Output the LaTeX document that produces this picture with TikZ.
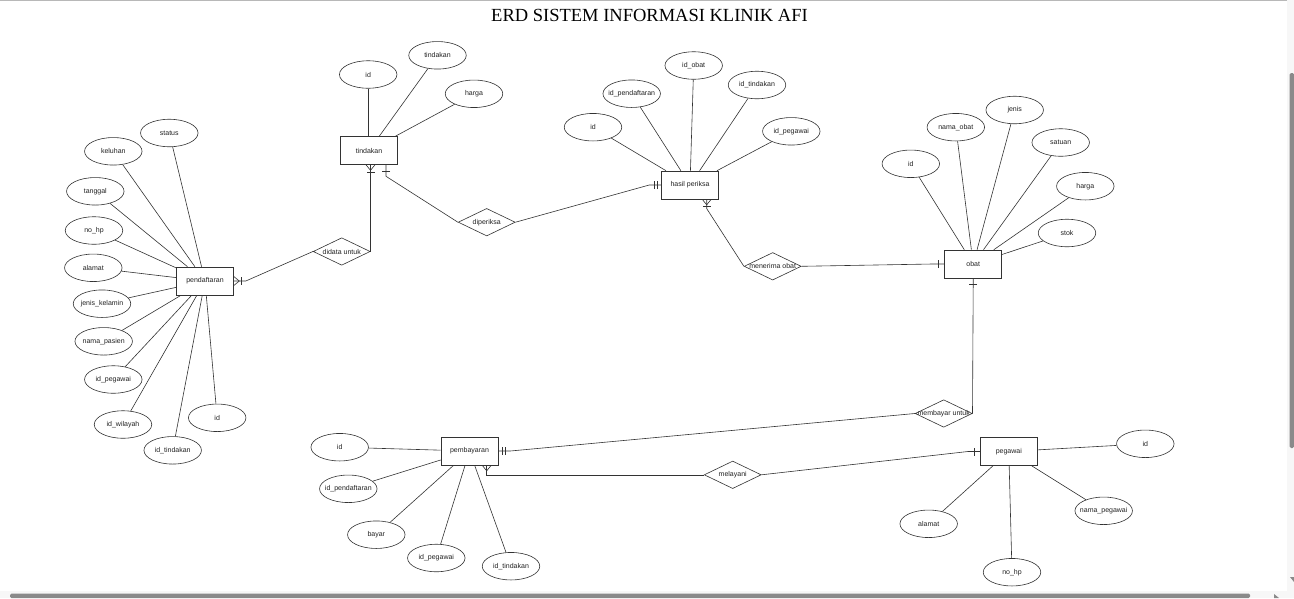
\documentclass[tikz,border=0pt]{standalone}
\usepackage{fontspec}
\setmainfont{Liberation Sans}
\newfontfamily\titlefont{Liberation Serif}
\usetikzlibrary{shapes.geometric,calc}
\definecolor{linec}{HTML}{333333}
\definecolor{txtc}{HTML}{222222}
\definecolor{thumbc}{HTML}{8A8A8A}
\newcommand\zb[1]{\makebox[0pt][c]{#1}}
\tikzset{
 base/.style={draw=linec, line width=0.6pt, inner sep=0pt, text=txtc, font=\fontsize{7}{8}\selectfont},
 ent/.style={base, rectangle, minimum width=57pt, minimum height=28pt},
 attr/.style={base, ellipse, minimum width=57.5pt, minimum height=27.5pt},
 rel/.style={base, diamond, minimum width=57pt, minimum height=27.5pt},
 conn/.style={draw=linec, line width=0.6pt},
 crowbar/.pic={\draw[conn] (0,-4.5) -- (5.5,0) -- (0,4.5); \draw[conn] (7,-4) -- (7,4);},
 crow/.pic={\draw[conn] (0,-4.5) -- (5.5,0) -- (0,4.5);},
 onebar/.pic={\draw[conn] (6,-4) -- (6,4);},
 twobar/.pic={\draw[conn] (3.5,-4) -- (3.5,4); \draw[conn] (7.3,-4) -- (7.3,4);}
}
\begin{document}
\begin{tikzpicture}[x=1pt,y=-1pt]
\useasboundingbox (0,0) rectangle (1294,598);
\fill[white] (0,0) rectangle (1294,598);
% window chrome
\fill[black!3] (1287,0) rectangle (1294,598);
\fill[black!3] (0,591) rectangle (1294,598);
\fill[black!28] (0,0) rectangle (1287,1.2);
\fill[thumbc, rounded corners=1.5pt] (1289.5,73) rectangle (1294,448);
\fill[thumbc, rounded corners=1.5pt] (10,593.5) rectangle (1250,598);
\fill[thumbc] (1290,577) -- (1294,577) -- (1294,582) -- cycle;
\fill[thumbc] (1274,594) -- (1279,598) -- (1274,598) -- cycle;

\node[font=\titlefont\fontsize{18.5}{20}\selectfont, text=black, inner sep=0pt] (title) at (649.5,15.2) {ERD SISTEM INFORMASI KLINIK AFI};

% entities
\node[ent] (pend) at (205,281) {pendaftaran};
\node[ent] (tind) at (369,150.5) {tindakan};
\node[ent] (hasil) at (690,185) {hasil periksa};
\node[ent] (obat) at (973.2,264) {obat};
\node[ent] (pemb) at (469.5,451) {pembayaran};
\node[ent] (peg) at (1008.8,451.5) {pegawai};

% relationships
\node[rel] (didata) at (341.7,251.5) {\zb{didata untuk}};
\node[rel] (diperiksa) at (486.7,222.2) {\zb{diperiksa}};
\node[rel] (menerima) at (772.7,266.3) {\zb{menerima obat}};
\node[rel] (membayar) at (943.7,413.5) {\zb{membayar untuk}};
\node[rel] (melayani) at (732.7,474.8) {\zb{melayani}};

% pendaftaran attributes
\node[attr] (p1) at (169.3,133) {\zb{status}};
\node[attr] (p2) at (113.3,151.3) {\zb{keluhan}};
\node[attr] (p3) at (95.3,191.3) {\zb{tanggal}};
\node[attr] (p4) at (94,230.5) {\zb{no\_hp}};
\node[attr] (p5) at (93.3,267.8) {\zb{alamat}};
\node[attr] (p6) at (102,303.7) {\zb{jenis\_kelamin}};
\node[attr] (p7) at (103.7,341.3) {\zb{nama\_pasien}};
\node[attr] (p8) at (113.3,379.5) {\zb{id\_pegawai}};
\node[attr] (p9) at (123,424.5) {\zb{id\_wilayah}};
\node[attr] (p10) at (172.7,450.3) {\zb{id\_tindakan}};
\node[attr] (p11) at (217.2,417.8) {\zb{id}};
\foreach \a in {p1,p2,p3,p4,p5,p6,p7,p8,p9,p10,p11} \draw[conn] (\a) -- (pend);

% tindakan attributes
\node[attr] (t1) at (368.2,74.5) {\zb{id}};
\node[attr] (t2) at (437.5,55.3) {\zb{tindakan}};
\node[attr] (t3) at (474,93.8) {\zb{harga}};
\draw[conn] (t1.south) -- (t1.south |- tind.north);
\foreach \a in {t2,t3} \draw[conn] (\a) -- (tind);

% hasil periksa attributes
\node[attr] (h1) at (593,127.2) {\zb{id}};
\node[attr] (h2) at (631.7,93.7) {\zb{id\_pendaftaran}};
\node[attr] (h3) at (693.7,65.5) {\zb{id\_obat}};
\node[attr] (h4) at (757,85) {\zb{id\_tindakan}};
\node[attr] (h5) at (791.3,131.3) {\zb{id\_pegawai}};
\foreach \a in {h1,h2,h3,h4,h5} \draw[conn] (\a) -- (hasil);

% obat attributes
\node[attr] (o1) at (910.8,163.8) {\zb{id}};
\node[attr] (o2) at (955.8,127.2) {\zb{nama\_obat}};
\node[attr] (o3) at (1014.7,110) {\zb{jenis}};
\node[attr] (o4) at (1060.7,142.5) {\zb{satuan}};
\node[attr] (o5) at (1085.3,186.2) {\zb{harga}};
\node[attr] (o6) at (1067,233) {\zb{stok}};
\foreach \a in {o1,o2,o3,o4,o5,o6} \draw[conn] (\a) -- (obat);

% pembayaran attributes
\node[attr] (b1) at (339.7,447.2) {\zb{id}};
\node[attr] (b2) at (348.3,488.8) {\zb{id\_pendaftaran}};
\node[attr] (b3) at (376.3,534.7) {\zb{bayar}};
\node[attr] (b4) at (436.3,558) {\zb{id\_pegawai}};
\node[attr] (b5) at (511,566.2) {\zb{id\_tindakan}};
\foreach \a in {b1,b2,b3,b4,b5} \draw[conn] (\a) -- (pemb);

% pegawai attributes
\node[attr] (g1) at (1145.3,443.8) {\zb{id}};
\node[attr] (g2) at (928.7,523.8) {\zb{alamat}};
\node[attr] (g3) at (1012,572.2) {\zb{no\_hp}};
\node[attr] (g4) at (1103.7,510.8) {\zb{nama\_pegawai}};
\foreach \a in {g1,g2,g3,g4} \draw[conn] (\a) -- (peg);

% relationship connectors
\draw[conn] (pend.east) -- ++(12,0) -- (didata.west);
\pic at (pend.east) {crowbar};
\coordinate (tindL) at (didata.east |- tind.south);
\draw[conn] (didata.east) -- (tindL);
\pic[rotate=-90] at (tindL) {crowbar};

\coordinate (tindR) at ($(tind.south)+(17,0)$);
\draw[conn] (tindR) -- ++(0,11.5) -- (diperiksa.west);
\pic[rotate=-90] at (tindR) {onebar};
\draw[conn] (diperiksa.east) -- ($(hasil.west)+(-12,0)$) -- (hasil.west);
\pic[rotate=180] at (hasil.west) {twobar};

\coordinate (hasilB) at ($(hasil.south)+(16.7,0)$);
\draw[conn] (hasilB) -- ++(0,9.3) -- (menerima.west);
\pic[rotate=-90] at (hasilB) {crowbar};
\draw[conn] (menerima.east) -- ($(obat.west)+(-12,0)$) -- (obat.west);
\pic[rotate=180] at (obat.west) {onebar};

\draw[conn] (obat.south) -- ++(0,8) -- (membayar.east);
\pic[rotate=-90] at (obat.south) {onebar};
\draw[conn] (membayar.west) -- ($(pemb.east)+(12,0)$) -- (pemb.east);
\pic at (pemb.east) {twobar};

\coordinate (pembB) at ($(pemb.south)+(17.2,0)$);
\draw[conn] (pembB) |- (melayani.west);
\pic[rotate=-90] at (pembB) {crow};
\draw[conn] (melayani.east) -- ($(peg.west)+(-12,0)$) -- (peg.west);
\pic[rotate=180] at (peg.west) {onebar};
\end{tikzpicture}
\end{document}
